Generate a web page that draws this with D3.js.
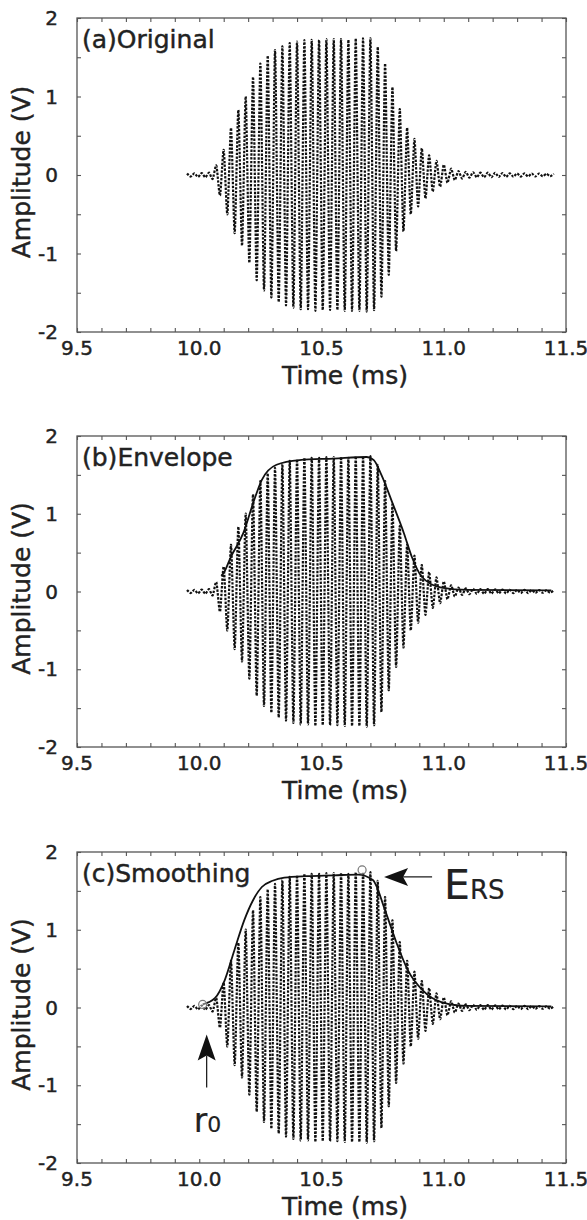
<!DOCTYPE html>
<html>
<head>
<meta charset="utf-8">
<script src="https://cdn.jsdelivr.net/npm/d3@7"></script>
<style>
  body { margin: 0; background: #fff; }
  svg text { font-family: "DejaVu Sans", sans-serif; fill: #222; stroke: #222; stroke-width: 0.45px; }
</style>
</head>
<body>
<div id="chart"></div>
<script>
var width = 587,
    height = 1220;

var plotLeft = 77, plotRight = 566;

// ---- data ----
var panelLabels = ['(a)Original', '(b)Envelope', '(c)Smoothing'];
var xTickValues = [9.5, 10.0, 10.5, 11.0, 11.5];
var xTickLabels = ['9.5', '10.0', '10.5', '11.0', '11.5'];
var yTickValues = [2, 1, 0, -1, -2];
var yTickLabels = ['2', '1', '0', '-1', '-2'];

// received signal: one peak every half period (ms), signs alternate
var waveStart = 9.95, waveStep = 0.015;
var wavePeaks = [
  0.02, -0.02, 0.02, -0.025, 0.025, -0.03, 0.03, -0.05, 0.12, -0.26,
  0.32, -0.5, 0.6, -0.74, 0.83, -0.9, 1.0, -1.12, 1.25, -1.34,
  1.42, -1.47, 1.52, -1.56, 1.59, -1.62, 1.64, -1.66, 1.68, -1.69,
  1.70, -1.71, 1.72, -1.71, 1.72, -1.73, 1.72, -1.72, 1.73, -1.72,
  1.73, -1.72, 1.73, -1.73, 1.72, -1.73, 1.74, -1.73, 1.74, -1.74,
  1.74, -1.72, 1.63, -1.55, 1.42, -1.27, 1.12, -0.97, 0.84, -0.72,
  0.6, -0.5, 0.46, -0.4, 0.34, -0.3, 0.25, -0.21, 0.18, -0.15,
  0.13, -0.1, 0.08, -0.065, 0.05, -0.045, 0.04, -0.035, 0.035, -0.03,
  0.03, -0.03, 0.03, -0.028, 0.028, -0.025, 0.025, -0.025, 0.022, -0.022,
  0.02, -0.02, 0.02, -0.02, 0.018, -0.018, 0.018, -0.016, 0.016, -0.015,
  0.015
];

// (b) envelope traced along the upper edge
var envTime = [10.09, 10.1, 10.13, 10.18, 10.225, 10.255, 10.316, 10.41, 10.55, 10.685,
               10.714, 10.745, 10.79, 10.837, 10.87, 10.91, 10.99, 11.1, 11.44];
var envAmp  = [0.2, 0.24, 0.45, 0.75, 1.18, 1.43, 1.63, 1.69, 1.71, 1.73,
               1.69, 1.5, 1.14, 0.75, 0.44, 0.19, 0.05, 0.02, 0.015];

// (c) smoothed envelope
var smoothTime = [10.014, 10.064, 10.104, 10.144, 10.185, 10.22, 10.256, 10.3, 10.348, 10.44,
                  10.55, 10.65, 10.71, 10.76, 10.807, 10.853, 10.914, 10.99, 11.1, 11.44];
var smoothAmp  = [0.04, 0.12, 0.35, 0.74, 1.13, 1.38, 1.55, 1.63, 1.67, 1.69,
                  1.70, 1.71, 1.64, 1.25, 0.83, 0.48, 0.22, 0.07, 0.02, 0.015];

// (c) marked points: onset r0 and peak E_RS
var markerTime = [10.014, 10.666];
var markerAmp  = [0.04, 1.77];

var wave = wavePeaks.map(function(v, i){ return {t: waveStart + i * waveStep, v: v}; });
var envelope = envTime.map(function(t, i){ return {t: t, v: envAmp[i]}; });
var smoothed = smoothTime.map(function(t, i){ return {t: t, v: smoothAmp[i]}; });

var panels = [
  {top: 18,  bottom: 332,  line: null},
  {top: 436, bottom: 747,  line: envelope},
  {top: 852, bottom: 1163, line: smoothed}
];

var svg = d3.select("#chart").append("svg")
    .attr("width", width)
    .attr("height", height);

var x = d3.scaleLinear()
    .domain([9.5, 11.5])
    .range([plotLeft, plotRight]);

panels.forEach(function(p, i){
  var y = d3.scaleLinear()
      .domain([-2, 2])
      .range([p.bottom, p.top]);

  var g = svg.append("g").attr("class", "panel");

  // signal, drawn as a smooth curve through the peaks
  var waveLine = d3.line()
      .x(function(d){ return x(d.t); })
      .y(function(d){ return y(d.v); })
      .curve(d3.curveCardinal.tension(0.3));

  g.append("path")
    .datum(wave)
    .attr("d", waveLine)
    .attr("fill", "none")
    .attr("stroke", "#111")
    .attr("stroke-width", 2.2)
    .attr("stroke-dasharray", "2.4,1.4");

  if (p.line){
    var envLine = d3.line()
        .x(function(d){ return x(d.t); })
        .y(function(d){ return y(d.v); })
        .curve(d3.curveMonotoneX);
    g.append("path")
      .datum(p.line)
      .attr("d", envLine)
      .attr("fill", "none")
      .attr("stroke", "#111")
      .attr("stroke-width", 1.8);
  }

  // frame
  g.append("rect")
    .attr("x", plotLeft)
    .attr("y", p.top)
    .attr("width", plotRight - plotLeft)
    .attr("height", p.bottom - p.top)
    .attr("fill", "none")
    .attr("stroke", "#555")
    .attr("stroke-width", 1.3);

  // inward ticks on all four sides
  var tickAxes = [
    [d3.axisBottom(x).ticks(20), "translate(0," + p.bottom + ")"],
    [d3.axisTop(x).ticks(20), "translate(0," + p.top + ")"],
    [d3.axisLeft(y).ticks(8), "translate(" + plotLeft + ",0)"],
    [d3.axisRight(y).ticks(8), "translate(" + plotRight + ",0)"]
  ];
  tickAxes.forEach(function(a){
    var ax = g.append("g")
      .attr("transform", a[1])
      .call(a[0].tickSizeInner(-4).tickSizeOuter(0).tickFormat(""));
    ax.select(".domain").remove();
    ax.selectAll("line").attr("stroke", "#555").attr("stroke-width", 1.1);
  });

  // tick labels
  g.selectAll(".xlab")
    .data(xTickValues)
    .enter().append("text")
    .attr("x", function(d){ return x(d); })
    .attr("y", p.bottom + 16)
    .attr("text-anchor", "middle")
    .attr("dominant-baseline", "central")
    .style("font-size", "20px")
    .text(function(d, j){ return xTickLabels[j]; });

  g.selectAll(".ylab")
    .data(yTickValues)
    .enter().append("text")
    .attr("x", plotLeft - 19)
    .attr("y", function(d){ return y(d); })
    .attr("text-anchor", "end")
    .attr("dominant-baseline", "central")
    .style("font-size", "20px")
    .text(function(d, j){ return yTickLabels[j]; });

  // axis titles
  g.append("text")
    .attr("x", 345)
    .attr("y", p.bottom + 43)
    .attr("text-anchor", "middle")
    .attr("dominant-baseline", "central")
    .style("font-size", "25px")
    .text("Time (ms)");

  g.append("text")
    .attr("transform", "translate(21," + ((p.top + p.bottom) / 2 - 3) + ") rotate(-90)")
    .attr("text-anchor", "middle")
    .attr("dominant-baseline", "central")
    .style("font-size", "25px")
    .text("Amplitude (V)");

  g.append("text")
    .attr("x", plotLeft + 5)
    .attr("y", p.top + 21)
    .attr("dominant-baseline", "central")
    .style("font-size", "25px")
    .text(panelLabels[i]);

  p.y = y;
  p.g = g;
});

/* annotations on (c) */
var pc = panels[2];
var marks = markerTime.map(function(t, i){ return [x(t), pc.y(markerAmp[i])]; });

pc.g.selectAll(".marker")
  .data(marks)
  .enter().append("circle")
  .attr("cx", function(d){ return d[0]; })
  .attr("cy", function(d){ return d[1]; })
  .attr("r", 4)
  .attr("fill", "#fff")
  .attr("fill-opacity", 0.4)
  .attr("stroke", "#777")
  .attr("stroke-width", 1.2);

// E_RS arrow, pointing left
var ex = marks[1][0] + 22, ey = marks[1][1] + 7;
pc.g.append("path")
  .attr("d", "M" + ex + "," + ey + " l24,-9 l-5,9 l5,9 z")
  .attr("fill", "#111");
pc.g.append("line")
  .attr("x1", ex + 19).attr("y1", ey)
  .attr("x2", ex + 48).attr("y2", ey)
  .attr("stroke", "#111").attr("stroke-width", 1.2);
var ers = pc.g.append("text")
  .attr("x", ex + 60)
  .attr("y", ey + 22)
  .style("stroke-width", "0.2px");
ers.append("tspan").style("font-size", "41px").text("E");
ers.append("tspan").style("font-size", "26px").text("RS");

// r0 arrow, pointing up
var rx = marks[0][0] + 4, ry = marks[0][1] + 30;
pc.g.append("path")
  .attr("d", "M" + rx + "," + ry + " l-9,26 l9,-5 l9,5 z")
  .attr("fill", "#111");
pc.g.append("line")
  .attr("x1", rx).attr("y1", ry + 21)
  .attr("x2", rx).attr("y2", ry + 53)
  .attr("stroke", "#111").attr("stroke-width", 1.2);
var r0 = pc.g.append("text")
  .attr("x", rx - 13)
  .attr("y", ry + 98)
  .style("stroke-width", "0.2px");
r0.append("tspan").style("font-size", "33px").text("r");
r0.append("tspan").style("font-size", "22px").text("0");
</script>
</body>
</html>
